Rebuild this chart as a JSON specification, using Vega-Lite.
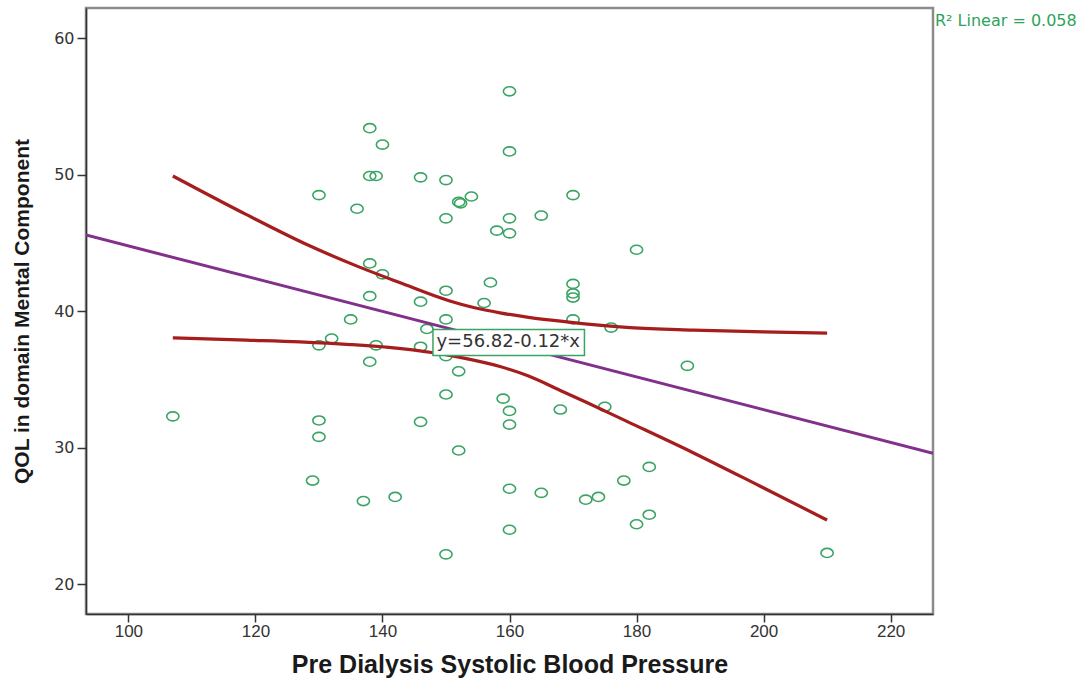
{
  "$schema": "https://vega.github.io/schema/vega-lite/v6.json",
  "width": 847,
  "height": 606,
  "autosize": {"type": "none"},
  "padding": {"left": 86, "top": 8, "right": 155, "bottom": 65},
  "background": "white",
  "config": {
    "view": {"stroke": "#8c8c8c", "strokeWidth": 2.5},
    "axis": {"grid": false}
  },
  "datasets": {
    "points": [
      {"x": 107, "y": 32.3}, {"x": 129, "y": 27.6}, {"x": 130, "y": 48.5}, {"x": 130, "y": 37.5},
      {"x": 130, "y": 32.0}, {"x": 130, "y": 30.8}, {"x": 132, "y": 38.0}, {"x": 135, "y": 39.4},
      {"x": 136, "y": 47.5}, {"x": 137, "y": 26.1}, {"x": 138, "y": 53.4}, {"x": 138, "y": 49.9},
      {"x": 138, "y": 43.5}, {"x": 138, "y": 41.1}, {"x": 138, "y": 36.3}, {"x": 139, "y": 49.9},
      {"x": 139, "y": 37.5}, {"x": 140, "y": 52.2}, {"x": 140, "y": 42.7}, {"x": 142, "y": 26.4},
      {"x": 146, "y": 49.8}, {"x": 146, "y": 40.7}, {"x": 146, "y": 37.4}, {"x": 146, "y": 31.9},
      {"x": 147, "y": 38.7}, {"x": 150, "y": 49.6}, {"x": 150, "y": 46.8}, {"x": 150, "y": 41.5},
      {"x": 150, "y": 39.4}, {"x": 150, "y": 36.7}, {"x": 150, "y": 33.9}, {"x": 150, "y": 22.2},
      {"x": 152, "y": 48.0}, {"x": 152.3, "y": 47.9}, {"x": 152, "y": 35.6}, {"x": 152, "y": 29.8},
      {"x": 154, "y": 48.4}, {"x": 156, "y": 40.6}, {"x": 157, "y": 42.1}, {"x": 158, "y": 45.9},
      {"x": 159, "y": 33.6}, {"x": 160, "y": 56.1}, {"x": 160, "y": 51.7}, {"x": 160, "y": 46.8},
      {"x": 160, "y": 45.7}, {"x": 160, "y": 32.7}, {"x": 160, "y": 31.7}, {"x": 160, "y": 27.0},
      {"x": 160, "y": 24.0}, {"x": 165, "y": 47.0}, {"x": 165, "y": 26.7}, {"x": 168, "y": 32.8},
      {"x": 170, "y": 48.5}, {"x": 170, "y": 42.0}, {"x": 170, "y": 41.3}, {"x": 170, "y": 41.0},
      {"x": 170, "y": 39.4}, {"x": 172, "y": 26.2}, {"x": 174, "y": 26.4}, {"x": 175, "y": 33.0},
      {"x": 176, "y": 38.8}, {"x": 178, "y": 27.6}, {"x": 180, "y": 44.5}, {"x": 180, "y": 24.4},
      {"x": 182, "y": 28.6}, {"x": 182, "y": 25.1}, {"x": 188, "y": 36.0}, {"x": 210, "y": 22.3}
    ],
    "fit": [
      {"x": 93.33, "y": 45.58}, {"x": 226.67, "y": 29.6}
    ],
    "upper": [
      {"x": 107, "y": 49.9}, {"x": 118.6, "y": 47.07}, {"x": 128, "y": 44.9}, {"x": 136, "y": 43.3},
      {"x": 142.7, "y": 42.1}, {"x": 150.6, "y": 40.75}, {"x": 154.5, "y": 40.25}, {"x": 158.5, "y": 39.88},
      {"x": 163, "y": 39.55}, {"x": 169, "y": 39.22}, {"x": 179, "y": 38.8}, {"x": 189, "y": 38.62},
      {"x": 200, "y": 38.48}, {"x": 210, "y": 38.39}
    ],
    "lower": [
      {"x": 107, "y": 38.05}, {"x": 118.6, "y": 37.88}, {"x": 127, "y": 37.75}, {"x": 134.9, "y": 37.56},
      {"x": 141, "y": 37.35}, {"x": 148, "y": 36.96}, {"x": 153, "y": 36.55}, {"x": 158.5, "y": 35.95},
      {"x": 163, "y": 35.25}, {"x": 168, "y": 34.2}, {"x": 172, "y": 33.35}, {"x": 178.4, "y": 31.95},
      {"x": 188.9, "y": 29.64}, {"x": 199.4, "y": 27.2}, {"x": 210, "y": 24.71}
    ]
  },
  "layer": [
    {
      "data": {"name": "points"},
      "mark": {"type": "point", "shape": "M-1,0 A1,0.74 0 1,1 1,0 A1,0.74 0 1,1 -1,0 Z", "size": 150, "filled": false, "stroke": "#3aa464", "strokeWidth": 1.6, "opacity": 1},
      "encoding": {
        "x": {
          "field": "x", "type": "quantitative",
          "scale": {"domain": [93.33, 226.67], "nice": false, "zero": false},
          "axis": {
            "values": [100, 120, 140, 160, 180, 200, 220],
            "title": "Pre Dialysis Systolic Blood Pressure",
            "domainColor": "#333", "domainWidth": 1.5,
            "tickColor": "#333", "tickWidth": 1.5, "tickSize": 8,
            "labelPadding": 1, "labelFont": "Liberation Sans Narrow, Liberation Sans", "labelFontSize": 17, "labelColor": "#333",
            "titleFont": "Liberation Sans Narrow, Liberation Sans", "titleFontSize": 25, "titleFontWeight": "bold", "titleColor": "#1a1a1a",
            "titleY": 58, "titleBaseline": "alphabetic"
          }
        },
        "y": {
          "field": "y", "type": "quantitative",
          "scale": {"domain": [17.83, 62.2], "nice": false, "zero": false},
          "axis": {
            "values": [20, 30, 40, 50, 60],
            "title": "QOL in domain Mental Component",
            "domainColor": "#333", "domainWidth": 1.5,
            "tickColor": "#333", "tickWidth": 1.5, "tickSize": 9,
            "labelPadding": 3, "labelFont": "DejaVu Sans", "labelFontSize": 16, "labelColor": "#333",
            "titleFont": "Liberation Sans Narrow, Liberation Sans", "titleFontSize": 21, "titleFontWeight": "bold", "titleColor": "#1a1a1a",
            "titleX": -64, "titleY": 303, "titleAlign": "center", "titleBaseline": "middle", "titleAngle": -90
          }
        }
      }
    },
    {
      "data": {"name": "fit"},
      "mark": {"type": "line", "color": "#83308c", "strokeWidth": 3, "clip": true},
      "encoding": {
        "x": {"field": "x", "type": "quantitative"},
        "y": {"field": "y", "type": "quantitative"}
      }
    },
    {
      "data": {"name": "upper"},
      "mark": {"type": "line", "color": "#a61d1d", "strokeWidth": 3.2, "interpolate": "monotone", "clip": true},
      "encoding": {
        "x": {"field": "x", "type": "quantitative"},
        "y": {"field": "y", "type": "quantitative"}
      }
    },
    {
      "data": {"name": "lower"},
      "mark": {"type": "line", "color": "#a61d1d", "strokeWidth": 3.2, "interpolate": "monotone", "clip": true},
      "encoding": {
        "x": {"field": "x", "type": "quantitative"},
        "y": {"field": "y", "type": "quantitative"}
      }
    },
    {
      "data": {"values": [{"label": "y=56.82-0.12*x"}]},
      "mark": {"type": "rect", "fill": "white", "stroke": "#3aa464", "strokeWidth": 1.5},
      "encoding": {
        "x": {"datum": 147.95, "type": "quantitative"}, "x2": {"datum": 171.8},
        "y": {"datum": 38.66, "type": "quantitative"}, "y2": {"datum": 36.76}
      }
    },
    {
      "data": {"values": [{"label": "y=56.82-0.12*x"}]},
      "mark": {"type": "text", "font": "DejaVu Sans", "fontSize": 18, "color": "#333", "align": "left", "baseline": "middle"},
      "encoding": {
        "x": {"datum": 148.5, "type": "quantitative"},
        "y": {"datum": 37.72, "type": "quantitative"},
        "text": {"field": "label"}
      }
    },
    {
      "data": {"values": [{"label": "R² Linear = 0.058"}]},
      "mark": {"type": "text", "font": "DejaVu Sans", "fontSize": 16, "color": "#2ea35a", "align": "left", "baseline": "alphabetic", "dx": 2, "clip": false},
      "encoding": {
        "x": {"datum": 226.67, "type": "quantitative"},
        "y": {"datum": 60.9, "type": "quantitative"},
        "text": {"field": "label"}
      }
    }
  ]
}
